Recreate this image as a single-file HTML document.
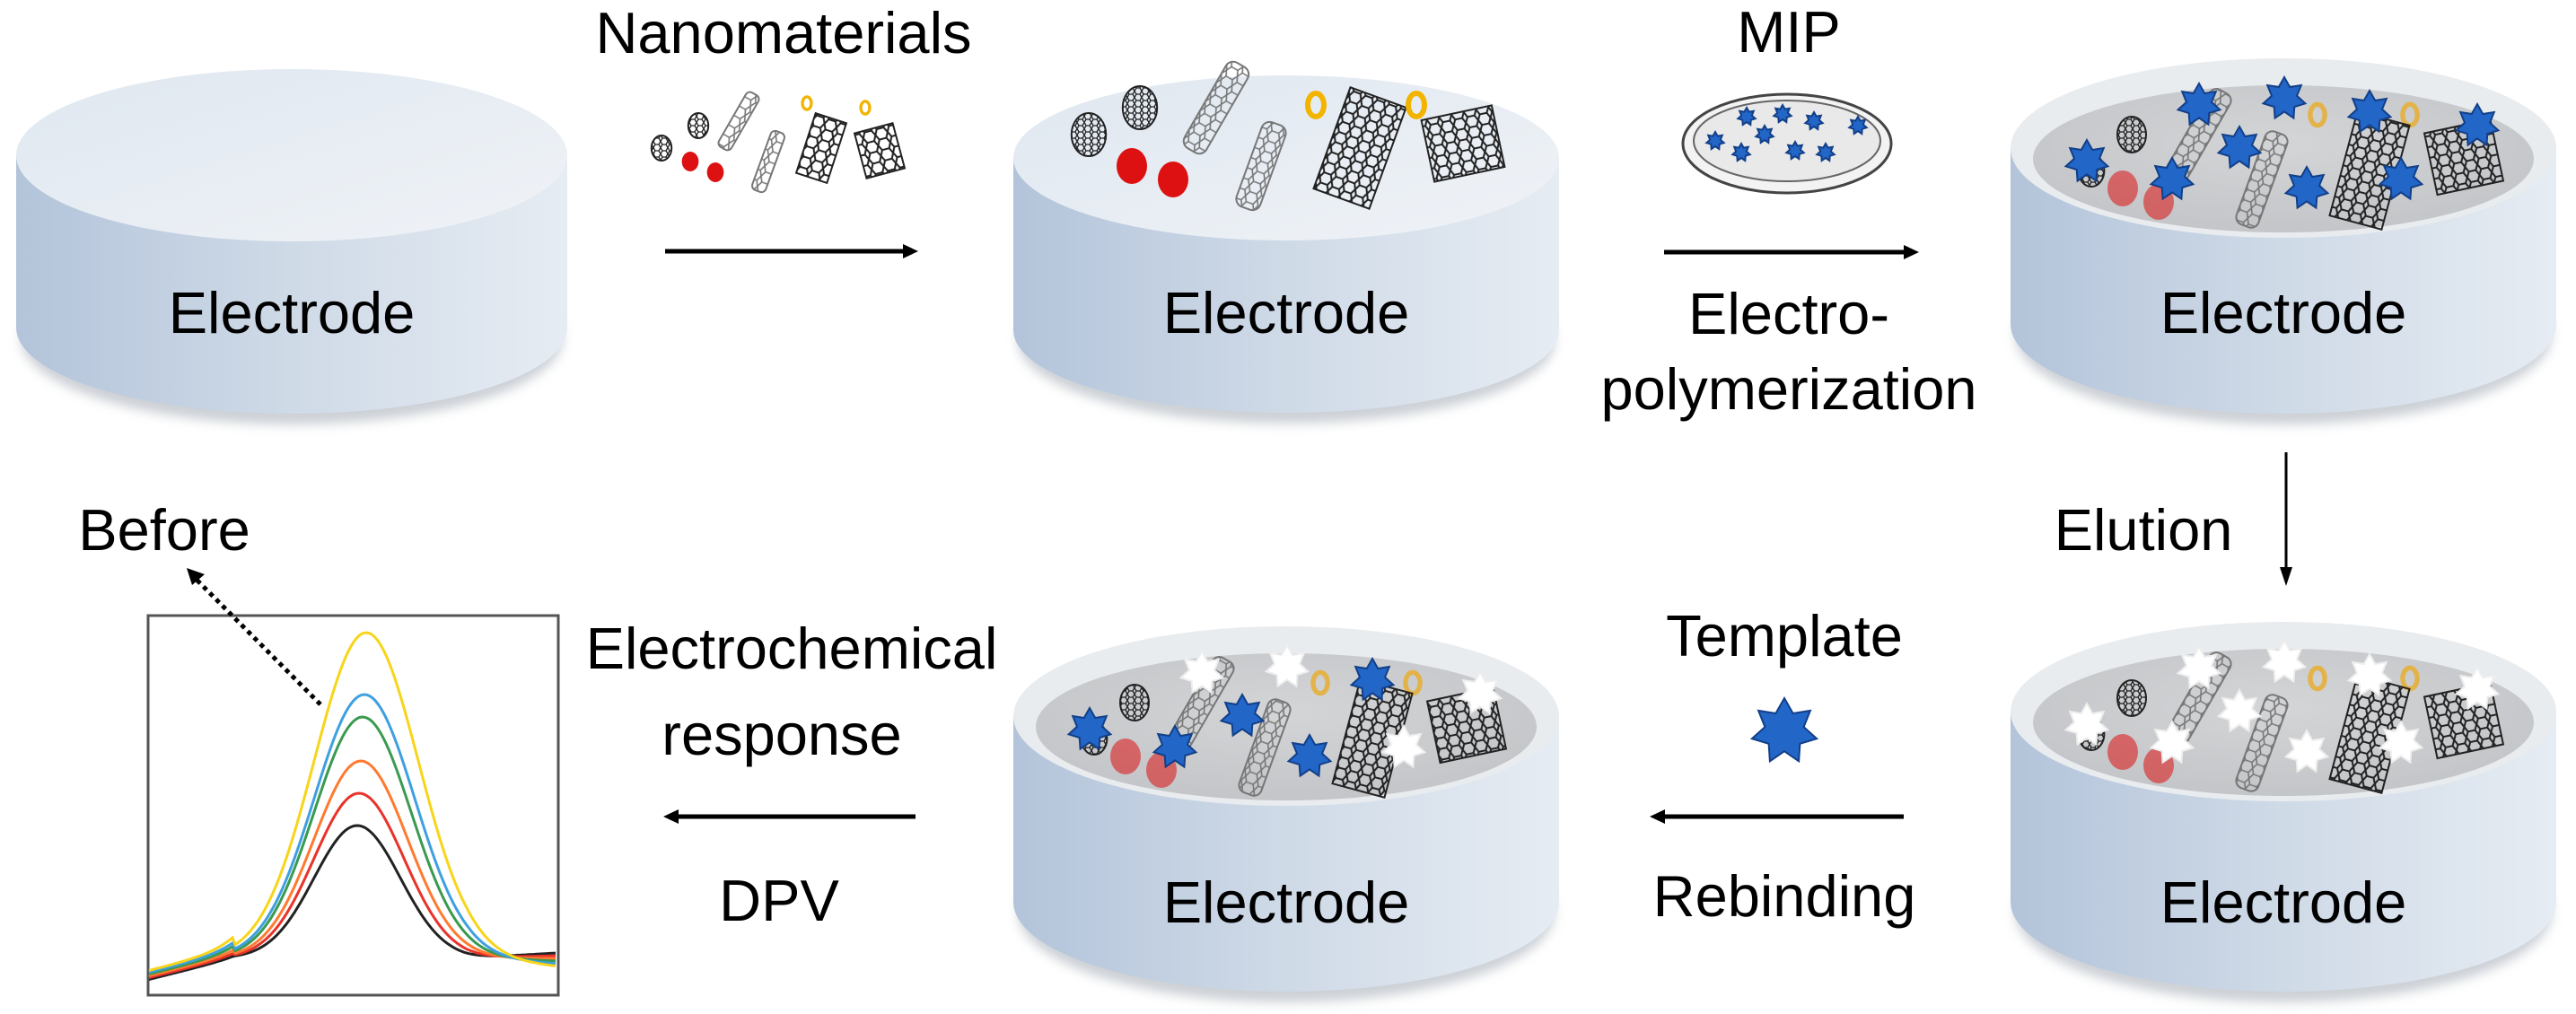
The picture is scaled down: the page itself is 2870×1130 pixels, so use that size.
<!DOCTYPE html>
<html><head><meta charset="utf-8"><style>
html,body{margin:0;padding:0;background:#fff;}
svg{display:block;}
text{font-family:"Liberation Sans",Arial,sans-serif;fill:#000;}
</style></head><body>
<svg id="s" width="2870" height="1130" viewBox="0 0 2870 1130" xmlns="http://www.w3.org/2000/svg">
<defs>
<linearGradient id="side" x1="0" x2="1" y1="0" y2="0">
<stop offset="0" stop-color="#b3c4da"/><stop offset="0.5" stop-color="#cfdae7"/><stop offset="1" stop-color="#e6ecf3"/></linearGradient>
<linearGradient id="top" x1="0" x2="1" y1="0" y2="1">
<stop offset="0" stop-color="#dfe7f0"/><stop offset="1" stop-color="#f0f3f7"/></linearGradient>
<radialGradient id="inner" cx="0.5" cy="0.4" r="0.6">
<stop offset="0" stop-color="#d4d5d7"/><stop offset="1" stop-color="#c3c5c8"/></radialGradient>
<pattern id="hex" width="14" height="12" patternUnits="userSpaceOnUse">
<path d="M3,0 L11,0 L14,6 L11,12 L3,12 L0,6 Z" fill="none" stroke="#222" stroke-width="2"/></pattern>
<pattern id="hexg" width="14" height="12" patternUnits="userSpaceOnUse">
<path d="M3,0 L11,0 L14,6 L11,12 L3,12 L0,6 Z" fill="none" stroke="#777" stroke-width="1.6"/></pattern>
<pattern id="hexs" width="8" height="7" patternUnits="userSpaceOnUse">
<path d="M2,0 L6,0 L8,3.5 L6,7 L2,7 L0,3.5 Z" fill="none" stroke="#222" stroke-width="1.3"/></pattern>
<filter id="sh" x="-10%" y="-10%" width="120%" height="130%"><feGaussianBlur stdDeviation="6"/></filter>
<marker id="ah" markerWidth="6" markerHeight="6" refX="4" refY="3" orient="auto" markerUnits="strokeWidth"><path d="M0,0 L6,3 L0,6 Z" fill="#000"/></marker>
</defs>
<g id="cyls"></g>
<g id="deco"></g>

<!-- labels -->
<text x="873" y="59" font-size="65" text-anchor="middle">Nanomaterials</text>
<text x="1993" y="58" font-size="65" text-anchor="middle">MIP</text>
<text x="1993" y="372" font-size="65" text-anchor="middle">Electro-</text>
<text x="1993" y="456" font-size="65" text-anchor="middle">polymerization</text>
<text x="2388" y="613" font-size="65" text-anchor="middle">Elution</text>
<text x="1988" y="731" font-size="65" text-anchor="middle">Template</text>
<text x="1988" y="1021" font-size="65" text-anchor="middle">Rebinding</text>
<text x="882" y="745" font-size="65" text-anchor="middle">Electrochemical</text>
<text x="871" y="841" font-size="65" text-anchor="middle">response</text>
<text x="868" y="1026" font-size="65" text-anchor="middle">DPV</text>
<text x="183" y="613" font-size="65" text-anchor="middle">Before</text>

<!-- arrows -->
<g stroke="#000" stroke-width="5" fill="none">
<line x1="741" y1="280" x2="1010" y2="280"/>
<line x1="1854" y1="281" x2="2125" y2="281"/>
<line x1="2547" y1="504" x2="2547" y2="640" stroke-width="3"/>
<line x1="2121" y1="910" x2="1852" y2="910"/>
<line x1="1020" y1="910" x2="752" y2="910"/>
</g>
<g fill="#000">
<path d="M1023,280 L1006,272 L1006,288 Z"/>
<path d="M2138,281 L2121,273 L2121,289 Z"/>
<path d="M2547,653 L2540,632 L2554,632 Z"/>
<path d="M1838,910 L1855,902 L1855,918 Z"/>
<path d="M739,910 L756,902 L756,918 Z"/>
</g>

<!-- plot -->
<rect x="165" y="686" width="457" height="423" fill="#fff" stroke="#555" stroke-width="3"/>
<g id="curves" fill="none" stroke-width="3"></g>
<line x1="357" y1="785" x2="218" y2="645" stroke="#000" stroke-width="5" stroke-dasharray="5,5"/>
<path d="M208,633 L228,640 L214,652 Z" fill="#000"/>
</svg>
<script>
var NS="http://www.w3.org/2000/svg";
function el(p,t,a){var e=document.createElementNS(NS,t);for(var k in a)e.setAttribute(k,a[k]);p.appendChild(e);return e;}
var cyls=document.getElementById('cyls'),deco=document.getElementById('deco');
function cyl(cx,rx,tc,bc,ry,cup,label,ly){
 el(cyls,'ellipse',{cx:cx,cy:bc+12,rx:rx-5,ry:ry,fill:'#9aa3ad',opacity:0.5,filter:'url(#sh)'});
 el(cyls,'path',{d:'M'+(cx-rx)+','+tc+' L'+(cx-rx)+','+bc+' A'+rx+' '+ry+' 0 0 0 '+(cx+rx)+','+bc+' L'+(cx+rx)+','+tc+' Z',fill:'url(#side)'});
 if(cup){
  el(cyls,'ellipse',{cx:cx,cy:tc,rx:rx,ry:ry,fill:'#e9ecef'});
  el(cyls,'ellipse',{cx:cx,cy:tc+12,rx:rx-25,ry:ry-18,fill:'url(#inner)'});
 } else el(cyls,'ellipse',{cx:cx,cy:tc,rx:rx,ry:ry,fill:'url(#top)'});
 var t=el(cyls,'text',{x:cx,y:ly,'font-size':65,'text-anchor':'middle'});t.textContent='Electrode';
}
cyl(325,307,173,365,96,false,'',371);
cyl(1433,304,176,368,92,false,'',371);
cyl(2544,304,165,361,100,true,'',371);
cyl(2544,304,793,1005,100,true,'',1028);
cyl(1433,304,798,1005,100,true,'',1028);

function fuller(g,x,y,r,c){el(g,'ellipse',{cx:x,cy:y,rx:r*0.8,ry:r,fill:'url(#hexs)',stroke:c||'#222','stroke-width':2});}
function tube(g,x,y,w,h,a,p){el(g,'rect',{x:x-w/2,y:y-h/2,width:w,height:h,rx:w/3,fill:'url(#'+(p||'hexg')+')',stroke:'#777','stroke-width':2,transform:'rotate('+a+' '+x+' '+y+')'});}
function sheet(g,x,y,w,h,a){el(g,'rect',{x:x-w/2,y:y-h/2,width:w,height:h,fill:'url(#hex)',stroke:'#222','stroke-width':2,transform:'rotate('+a+' '+x+' '+y+')'});}
function gold(g,x,y,s,c){el(g,'ellipse',{cx:x,cy:y,rx:9*s,ry:13*s,fill:'none',stroke:c||'#f2b400','stroke-width':6*s});}
function red(g,x,y,s,o){el(g,'ellipse',{cx:x,cy:y,rx:17*s,ry:20*s,fill:'#dd1111',opacity:o||1});}
function star(g,x,y,r,fill){var d='';for(var i=0;i<14;i++){var rr=i%2?r*0.6:r;var an=-Math.PI/2+i*Math.PI/7;d+=(i?'L':'M')+(x+rr*Math.cos(an)).toFixed(1)+','+(y+rr*Math.sin(an)).toFixed(1);}
 el(g,'path',{d:d+'Z',fill:fill||'#2266c8',stroke:fill=='#fff'?'#eee':'#123f88','stroke-width':2});}

// nanomaterials small
(function(){var g=deco,s=0.55;
fuller(g,737,165,14);fuller(g,778,140,14);red(g,769,180,s);red(g,797,192,s);
tube(g,823,135,16,70,30);tube(g,856,180,16,70,20);
sheet(g,915,165,36,70,18);gold(g,899,115,s);gold(g,964,120,s);sheet(g,980,168,44,52,-15);
})();
// cyl2 contents
(function(){var g=deco;
fuller(g,1213,150,24);fuller(g,1270,120,24);red(g,1261,185,1);red(g,1307,200,1);
tube(g,1355,120,28,110,30);tube(g,1405,185,28,100,20);
gold(g,1466,117,1);sheet(g,1515,165,66,120,20);gold(g,1578,117,1);sheet(g,1630,160,80,70,-12);
})();
// MIP dish
(function(){var g=deco;
el(g,'ellipse',{cx:1991,cy:160,rx:116,ry:55,fill:'#f3f3f3',stroke:'#444','stroke-width':3});
el(g,'ellipse',{cx:1991,cy:157,rx:104,ry:45,fill:'#e9e9e9',stroke:'#666','stroke-width':2});
[[1946,130],[1986,127],[2021,135],[2070,140],[1911,157],[1966,150],[1940,170],[2000,168],[2034,170]].forEach(function(p){star(g,p[0],p[1],10);});
})();
function cupContents(g,cx,cy,mode){ // mode: 'blue','white','mixed'
 var o=cx-2544,p=cy-165;
 fuller(g,2330+o,190+p,18);fuller(g,2375+o,150+p,20);red(g,2365+o,210+p,1,0.55);red(g,2405+o,225+p,1,0.55);
 tube(g,2450+o,150+p,26,110,30);tube(g,2520+o,200+p,26,110,20);
 gold(g,2582+o,128+p,0.9,'#e3b34a');gold(g,2685+o,128+p,0.9,'#e3b34a');
 sheet(g,2640+o,190+p,60,120,15);sheet(g,2745+o,175+p,75,70,-12);
 var pts=[[2325,180],[2450,117],[2545,110],[2640,125],[2760,140],[2495,165],[2420,200],[2570,210],[2675,200]];
 pts.forEach(function(q,i){var f='#2266c8';if(mode=='white')f='#fff';if(mode=='mixed')f=(i==1||i==4||i==8)?'#fff':'#2266c8';if(mode=='mixed'&&i==2)f='#fff';star(g,q[0]+o,q[1]+p,24,f);});
}
cupContents(deco,2544,165,'blue');
cupContents(deco,2544,793,'white');
cupContents(deco,1433,798,'mixed');
star(deco,1988,815,37);

// curves
var cv=document.getElementById('curves');
[['#222',920],['#e8332a',884],['#ff7a30',848],['#3a9a50',799],['#3fa0e0',774],['#f7d51a',705]].forEach(function(c,i){
 var base=1068,h=base-c[1],sig=48+i*2,mu=398+i*2,d='';
 for(var x=166;x<=621;x+=3){var y=base-h*Math.exp(-Math.pow((x-mu)/sig,2)/2);
  if(x<260)y+= (260-x)*0.25-(i*2); if(x>520) y+=(x-520)*0.01*(i-2)*3;
  d+=(x==166?'M':'L')+x+','+y.toFixed(1);}
 el(cv,'path',{d:d,stroke:c[0]});
});
</script>
</body></html>
